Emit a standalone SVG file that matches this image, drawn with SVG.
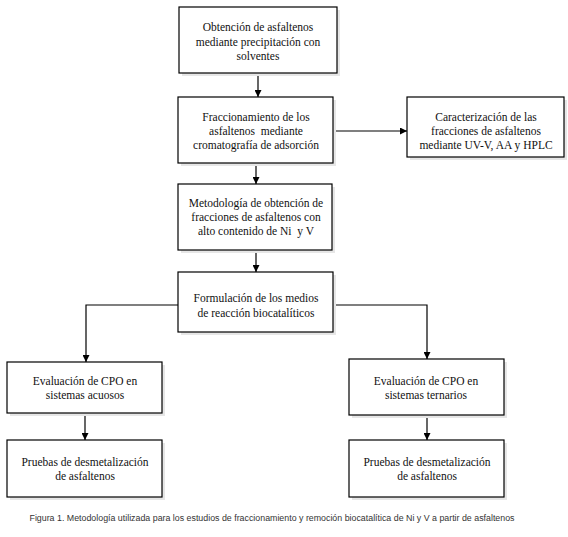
<svg xmlns="http://www.w3.org/2000/svg" width="568" height="537" viewBox="0 0 568 537">
<defs>
<style>
.box{fill:#fff;stroke:#000;stroke-width:1.2}
.sh{fill:#e6e6e6}
.t{font-family:"Liberation Serif","Times New Roman",serif;font-size:11.5px;fill:#111;text-anchor:middle}
.c{stroke:#000;stroke-width:1.2;fill:none}
.cap{font-family:"Liberation Sans",Arial,sans-serif;font-size:8.5px;fill:#333;text-anchor:middle}
</style>
<marker id="ah" viewBox="0 0 10 10" refX="10" refY="5" markerWidth="7" markerHeight="7" markerUnits="userSpaceOnUse" orient="auto">
<path d="M0,0 L10,5 L0,10 Z" fill="#000"/>
</marker>
</defs>
<rect width="568" height="537" fill="#fff"/>
<g id="connectors">
<line class="c" x1="258" y1="73" x2="258" y2="97" marker-end="url(#ah)"/>
<line class="c" x1="333" y1="131" x2="407" y2="131" marker-end="url(#ah)"/>
<line class="c" x1="256" y1="163" x2="256" y2="184" marker-end="url(#ah)"/>
<line class="c" x1="256" y1="250" x2="256" y2="272" marker-end="url(#ah)"/>
<polyline class="c" points="178,305 86,305 86,362" marker-end="url(#ah)"/>
<polyline class="c" points="333,305 427,305 427,359" marker-end="url(#ah)"/>
<line class="c" x1="85" y1="413" x2="85" y2="440" marker-end="url(#ah)"/>
<line class="c" x1="427" y1="415" x2="427" y2="440" marker-end="url(#ah)"/>
</g>
<g id="n1">
<rect class="sh" x="182" y="10" width="158" height="66"/>
<rect class="box" x="179" y="7" width="158" height="66"/>
<text class="t" x="258" y="31">Obtención de asfaltenos</text>
<text class="t" x="258" y="46">mediante precipitación con</text>
<text class="t" x="258" y="60">solventes</text>
</g>
<g id="n2">
<rect class="sh" x="181" y="100" width="155" height="66"/>
<rect class="box" x="178" y="97" width="155" height="66"/>
<text class="t" x="256" y="121">Fraccionamiento de los</text>
<text class="t" x="256" y="135" xml:space="preserve">asfaltenos  mediante</text>
<text class="t" x="256" y="149">cromatografía de adsorción</text>
</g>
<g id="n3">
<rect class="sh" x="410" y="100" width="157" height="60"/>
<rect class="box" x="407" y="97" width="157" height="60"/>
<text class="t" x="486" y="121">Caracterización de las</text>
<text class="t" x="486" y="135">fracciones de asfaltenos</text>
<text class="t" x="486" y="149">mediante UV-V, AA y HPLC</text>
</g>
<g id="n4">
<rect class="sh" x="181" y="187" width="154" height="66"/>
<rect class="box" x="178" y="184" width="154" height="66"/>
<text class="t" x="256" y="207">Metodología de obtención de</text>
<text class="t" x="256" y="221">fracciones de asfaltenos con</text>
<text class="t" x="256" y="235" xml:space="preserve">alto contenido de Ni  y V</text>
</g>
<g id="n5">
<rect class="sh" x="181" y="275" width="155" height="60"/>
<rect class="box" x="178" y="272" width="155" height="60"/>
<text class="t" x="256" y="302">Formulación de los medios</text>
<text class="t" x="256" y="317">de reacción biocatalíticos</text>
</g>
<g id="n6">
<rect class="sh" x="10" y="365" width="155" height="51"/>
<rect class="box" x="7" y="362" width="155" height="51"/>
<text class="t" x="85" y="385">Evaluación de CPO en</text>
<text class="t" x="85" y="399">sistemas acuosos</text>
</g>
<g id="n7">
<rect class="sh" x="352" y="362" width="155" height="56"/>
<rect class="box" x="349" y="359" width="155" height="56"/>
<text class="t" x="426" y="385">Evaluación de CPO en</text>
<text class="t" x="426" y="399">sistemas ternarios</text>
</g>
<g id="n8">
<rect class="sh" x="10" y="443" width="155" height="57"/>
<rect class="box" x="7" y="440" width="155" height="57"/>
<text class="t" x="85" y="466">Pruebas de desmetalización</text>
<text class="t" x="85" y="480">de asfaltenos</text>
</g>
<g id="n9">
<rect class="sh" x="352" y="443" width="155" height="57"/>
<rect class="box" x="349" y="440" width="155" height="57"/>
<text class="t" x="427" y="466">Pruebas de desmetalización</text>
<text class="t" x="427" y="480">de asfaltenos</text>
</g>
<text class="cap" x="272" y="521" textLength="485" lengthAdjust="spacingAndGlyphs">Figura 1. Metodología utilizada para los estudios de fraccionamiento y remoción biocatalítica de Ni y V a partir de asfaltenos</text>
</svg>
